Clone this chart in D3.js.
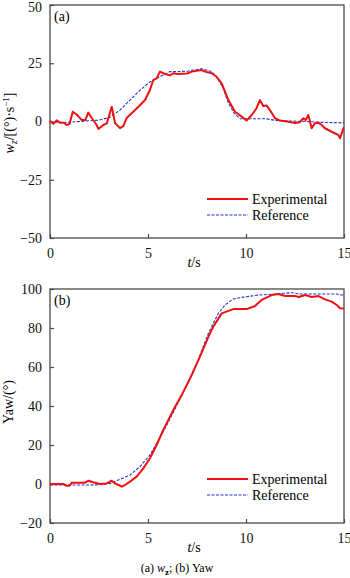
<!DOCTYPE html>
<html>
<head>
<meta charset="utf-8">
<script src="https://cdn.jsdelivr.net/npm/d3@7"></script>
<style>
  body { margin: 0; background: #fff; }
  svg { font-family: "Liberation Serif", "Times New Roman", serif; }
</style>
</head>
<body>
<div id="chart"></div>
<script>
// Panel (a): w_z, experimental vs reference
const timeExpA = [0, 0.17, 0.34, 0.5, 0.7, 0.85, 1.0, 1.16, 1.36, 1.62, 1.8, 1.95, 2.13, 2.38, 2.47, 2.72, 2.9, 3.15, 3.32, 3.57, 3.74, 3.91, 4.25, 4.59, 4.85, 5.1, 5.27, 5.44, 5.61, 5.87, 6.12, 6.29, 6.5, 7.0, 7.23, 7.74, 7.91, 8.25, 8.5, 8.76, 9.1, 9.44, 9.78, 10.03, 10.29, 10.54, 10.71, 10.88, 11.05, 11.22, 11.48, 11.73, 12.16, 12.5, 12.75, 12.93, 13.05, 13.18, 13.35, 13.52, 13.7, 13.86, 14.03, 14.37, 14.71, 14.8, 14.97, 15];
const wzExp = [0.3, -1, 0.5, -0.5, -0.5, -1.5, -1, 4.2, 3, 0.6, 0.6, 3.8, 1.5, -1.5, -3.2, -1.5, -0.8, 6.3, -0.7, -2.8, -2, 1.5, 4.2, 7, 9.2, 13.5, 17.8, 18.5, 21.4, 20.4, 19.8, 20.7, 20.4, 20.6, 21.4, 22.1, 21.4, 20.7, 19.2, 16.4, 9.2, 4.2, 2.1, 0.4, 2.8, 5.7, 9.2, 6.7, 6.9, 4.9, 1.4, 0.4, -0.1, -0.6, -0.3, 1.4, 0.6, 2.8, -2.9, -0.7, -0.5, -1.5, -2.9, -4.4, -5.8, -7.2, -2.9, -2.5];
const timeRefA = [0, 1, 2, 2.5, 3.06, 3.57, 4.08, 4.6, 5.1, 5.6, 6.12, 6.38, 7.0, 7.74, 8.25, 8.5, 8.84, 9.1, 9.4, 9.7, 10.12, 11.0, 11.5, 12.0, 13.0, 14.0, 15];
const wzRef = [-0.3, -0.3, 0.3, 0.6, 1.8, 4.9, 9.2, 13.5, 17, 19.2, 21.4, 21.4, 21.6, 22.6, 21.4, 19.2, 14.2, 8, 3.5, 1.2, 1.2, 1.2, 0.5, 0.3, 0, -0.4, -0.6];

// Panel (b): Yaw
const timeExpB = [0, 0.68, 0.85, 1.0, 1.11, 1.79, 1.96, 2.21, 2.55, 2.89, 3.15, 3.32, 3.49, 3.66, 3.83, 4.08, 4.42, 4.76, 5.1, 5.44, 5.78, 6.38, 6.72, 7.23, 7.65, 8.08, 8.33, 8.76, 9.35, 10.03, 10.46, 10.8, 11.31, 11.65, 12.0, 12.5, 12.7, 13.01, 13.35, 13.7, 14.03, 14.37, 14.63, 14.8, 15];
const yawExp = [0, 0, -0.9, -0.9, 0.7, 0.7, 1.7, 0.9, 0, 0.3, 1.7, 0.3, -0.5, -1.4, -0.5, 1.2, 3.8, 8, 13.2, 20, 27.7, 39.6, 45.6, 55.9, 65.3, 75.5, 80.7, 87.5, 89.7, 89.7, 91.3, 94.4, 96.9, 97.4, 96.4, 96.4, 95.9, 96.9, 95.9, 96.4, 94.7, 93.5, 91.8, 90.1, 90];
const timeRefB = [0, 1, 2, 2.5, 3.06, 3.57, 4.08, 4.59, 5.1, 5.44, 6.0, 6.5, 7.0, 7.5, 8.08, 8.33, 8.59, 8.93, 9.35, 9.78, 10.63, 11.48, 12.33, 12.8, 13.5, 14.63, 14.9, 15];
const yawRef = [-0.5, -0.5, -0.5, -0.4, 0.3, 2.4, 4.6, 8.9, 14.9, 20.9, 31, 41, 51, 62, 77.3, 82.4, 87.5, 91.8, 94.9, 95.7, 96.9, 97.4, 98.1, 97.4, 97.4, 97.4, 96.9, 96.9];

const xTicks = [0, 5, 10, 15];
const yTicksA = [-50, -25, 0, 25, 50];
const yTicksB = [-20, 0, 20, 40, 60, 80, 100];
const seriesNames = ["Experimental", "Reference"];

const W = 350, H = 578;
const svg = d3.select("#chart").append("svg")
    .attr("width", W).attr("height", H);

const axisColor = "#4a4a4a";

function panel(opts) {
    const x = d3.scaleLinear().domain([0, 15]).range([50, 344]);
    const y = d3.scaleLinear().domain(opts.yDomain).range([opts.bottom, opts.top]);
    const g = svg.append("g");

    // frame
    g.append("rect")
        .attr("x", 50).attr("y", opts.top)
        .attr("width", 294).attr("height", opts.bottom - opts.top)
        .attr("fill", "none").attr("stroke", axisColor).attr("stroke-width", 1.3);

    // axes with inward ticks
    const xAxis = g.append("g")
        .attr("transform", `translate(0,${opts.bottom})`)
        .call(d3.axisBottom(x).tickValues(xTicks).tickSizeInner(-4).tickSizeOuter(0).tickPadding(10));
    const yAxis = g.append("g")
        .attr("transform", "translate(50,0)")
        .call(d3.axisLeft(y).tickValues(opts.yTicks).tickSizeInner(-4).tickSizeOuter(0).tickPadding(8)
            .tickFormat(d => d < 0 ? "\u2212" + Math.abs(d) : d));
    [xAxis, yAxis].forEach(a => {
        a.select(".domain").remove();
        a.selectAll("line").attr("stroke", axisColor).attr("stroke-width", 1.2);
        a.selectAll("text").attr("fill", "#111")
            .style("font-family", "'Liberation Serif', serif").style("font-size", "14px");
    });
    // keep the top label inside the page
    yAxis.selectAll(".tick text").filter(d => y(d) < 8).attr("dy", "0.45em");

    const line = d3.line().x(d => x(d[0])).y(d => y(d[1]));

    g.append("path")
        .datum(d3.zip(opts.tRef, opts.vRef))
        .attr("d", line).attr("fill", "none")
        .attr("stroke", "#2233dd").attr("stroke-width", 1.1)
        .attr("stroke-dasharray", "3,1.5");
    g.append("path")
        .datum(d3.zip(opts.tExp, opts.vExp))
        .attr("d", line).attr("fill", "none")
        .attr("stroke", "#ee1111").attr("stroke-width", 2)
        .attr("stroke-linejoin", "round");

    // panel tag
    g.append("text").attr("x", 54).attr("y", opts.top + 16)
        .style("font-size", "14px").text(opts.tag);

    // legend
    const leg = g.append("g");
    seriesNames.forEach((name, i) => {
        const ly = opts.legendY + i * 16;
        leg.append("line")
            .attr("x1", 207).attr("x2", 248).attr("y1", ly).attr("y2", ly)
            .attr("stroke", i === 0 ? "#ee1111" : "#2233dd")
            .attr("stroke-width", i === 0 ? 2 : 1.1)
            .attr("stroke-dasharray", i === 0 ? null : "3,1.5");
        leg.append("text").attr("x", 252).attr("y", ly + 5)
            .style("font-size", "14px").text(name);
    });

    // x label t/s
    const xl = g.append("text").attr("x", 194).attr("y", opts.bottom + 29)
        .attr("text-anchor", "middle").style("font-size", "14px");
    xl.append("tspan").style("font-style", "italic").text("t");
    xl.append("tspan").text("/s");

    return { x, y, g };
}

panel({
    top: 5, bottom: 238, yDomain: [-50, 50], yTicks: yTicksA,
    tExp: timeExpA, vExp: wzExp, tRef: timeRefA, vRef: wzRef,
    tag: "(a)", legendY: 199
});
panel({
    top: 289, bottom: 523, yDomain: [-20, 100], yTicks: yTicksB,
    tExp: timeExpB, vExp: yawExp, tRef: timeRefB, vRef: yawRef,
    tag: "(b)", legendY: 479
});

// y labels
const yl1 = svg.append("text")
    .attr("transform", "translate(14,123) rotate(-90)")
    .attr("text-anchor", "middle").style("font-size", "14px");
yl1.append("tspan").style("font-style", "italic").text("w");
yl1.append("tspan").style("font-style", "italic").style("font-size", "10px").attr("dy", 3).text("z");
yl1.append("tspan").attr("dy", -3).text("/[(\u00b0)\u00b7s");
yl1.append("tspan").style("font-size", "9px").attr("dy", -5).text("\u22121");
yl1.append("tspan").attr("dy", 5).text("]");

svg.append("text")
    .attr("transform", "translate(13,402) rotate(-90)")
    .attr("text-anchor", "middle").style("font-size", "14px")
    .text("Yaw/(\u00b0)");

// caption
const cap = svg.append("text").attr("x", 177).attr("y", 572)
    .attr("text-anchor", "middle").style("font-size", "12px");
cap.append("tspan").text("(a) ");
cap.append("tspan").style("font-style", "italic").text("w");
cap.append("tspan").style("font-size", "9px").style("font-weight", "bold").attr("dy", 3).text("z");
cap.append("tspan").attr("dy", -3).text("; (b) Yaw");
</script>
</body>
</html>
